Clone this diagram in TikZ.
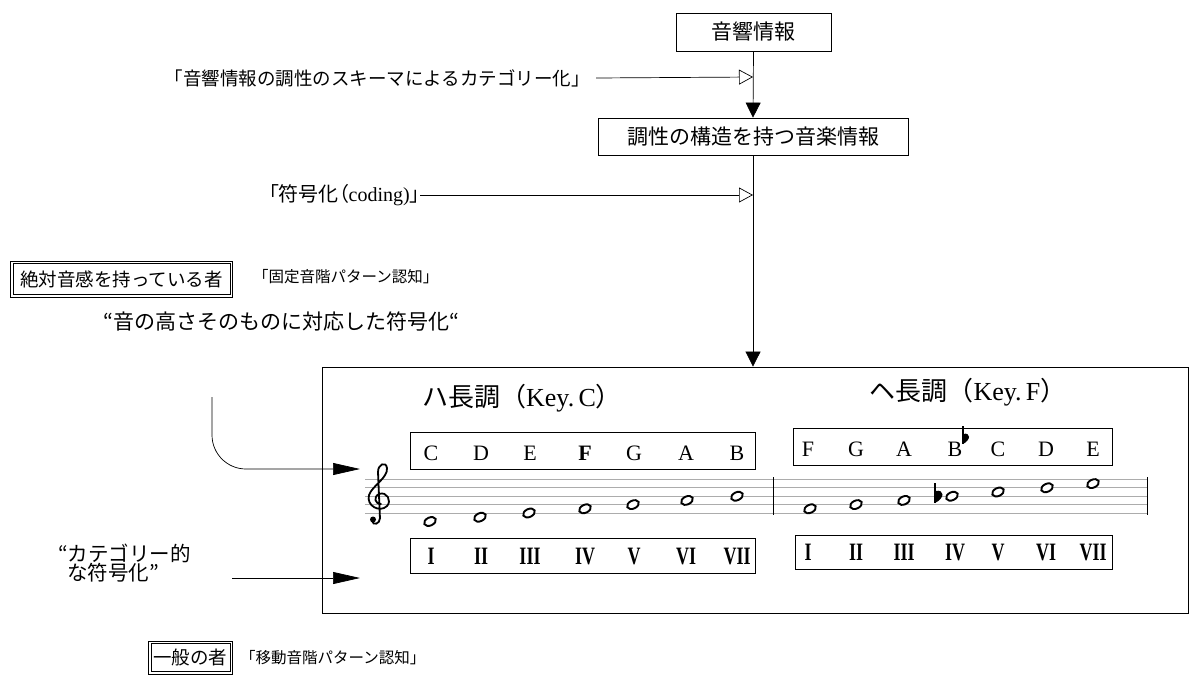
\documentclass[tikz,border=0pt]{standalone}
\usepackage{fontspec}
\setmainfont{Liberation Serif}
\newfontfamily\jp{Noto Sans CJK JP}
\newfontfamily\jpp[RawFeature=+palt]{Noto Sans CJK JP}
\usetikzlibrary{arrows.meta}
\newcommand{\fs}[1]{\fontsize{#1}{#1}\selectfont}
\newcommand{\rn}[1]{\scalebox{0.72}[1]{\bfseries #1}}
\begin{document}
\begin{tikzpicture}[x=1pt,y=-1pt,
  box/.style={draw, line width=0.8pt, inner sep=0pt},
  lbl/.style={inner sep=0pt, anchor=west},
  conn/.style={line width=0.7pt},
  blk/.style={conn, -{Triangle[length=15pt,width=15pt]}},
  blkh/.style={conn, -{Triangle[length=27pt,width=12pt]}},
  opn/.style={conn, -{Triangle[open,length=14pt,width=15pt,line width=0.7pt]}},
  let/.style={inner sep=0pt, font=\fs{22}},
  rom/.style={inner sep=0pt, font=\fs{25}},
  staff/.style={gray!65, line width=0.6pt},
  note/.style={line width=1.9pt}
]
\useasboundingbox (0,0) rectangle (1191,675);

% top chain
\node[box, minimum width=155, minimum height=38] (b1) at (753.5,32) {\jp\fs{21}音響情報};
\node[box, minimum width=310, minimum height=37] (b2) at (753,136.5) {\jp\fs{21}調性の構造を持つ音楽情報};
\node[box, minimum width=866, minimum height=246] (big) at (755,490) {};
\draw[blk] (b1.south) -- (b2.north);
\draw[blk] (b2.south) -- (b2.south |- big.north);

\coordinate (m1) at (753,77);
\coordinate (m2) at (753,195);
\node[inner sep=0pt, anchor=east] (l1) at (590,78) {\jp\fs{18.5}「音響情報の調性のスキーマによるカテゴリー化」};
\draw[opn] ([xshift=6pt]l1.east) -- (m1);
\node[inner sep=0pt, anchor=east] (l2) at (420,195) {{\jpp\fs{20}「符号化（}\fs{20}coding){\jpp\fs{20}」}};
\draw[opn] (l2.east) -- (m2);

% left labels
\node[box, minimum width=222, minimum height=36, anchor=west] (abs) at (10,279) {\jp\fs{18.5}絶対音感を持っている者};
\draw[line width=0.6pt] ([shift={(3,3)}]abs.north west) rectangle ([shift={(-3,-3)}]abs.south east);
\node[lbl] (fix) at (253,277) {\jp\fs{15.5}「固定音階パターン認知」};
\node[lbl] (q1) at (103,322) {\jp\fs{21}“音の高さそのものに対応した符号化“};
\node[lbl, align=left] (q2) at (58,563) {\jp\fs{20.5}“カテゴリー的\\[-1pt]\jp\fs{20.5}\ \ な符号化”};
\node[box, minimum width=84, minimum height=33, anchor=west] (gen) at (148,657.5) {\jp\fs{18.5}一般の者};
\draw[line width=0.6pt] ([shift={(3,3)}]gen.north west) rectangle ([shift={(-3,-3)}]gen.south east);
\node[lbl] (mov) at (240,658) {\jp\fs{15.5}「移動音階パターン認知」};

% arrows into big box
\coordinate (c0) at (212,397);
\coordinate (c1) at (360,469);
\draw[blkh] (c0) -- (212,435) to[out=-90,in=180] (246,469) -- (c1);
\coordinate (d0) at (232,578);
\coordinate (d1) at (360,578);
\draw[blkh] (d0) -- (d1);

% titles
\node[inner sep=0pt] (tc) at (522,398) {{\jp\fs{26}ハ長調（}\fs{26}Key.\,C{\jp\fs{26}）}};
\node[inner sep=0pt] (tf) at (968,392) {{\jp\fs{26}ヘ長調（}\fs{26}Key.\,F{\jp\fs{26}）}};

% letter boxes
\node[box, minimum width=345, minimum height=37] (lc) at (582.5,450.5) {};
\node[box, minimum width=319, minimum height=37] (lf) at (952.5,446.5) {};
\node[box, minimum width=345, minimum height=35] (rc) at (582.5,555.5) {};
\node[box, minimum width=317, minimum height=34] (rf) at (953.5,552) {};

\foreach \x/\t [count=\i] in {431/C,481/D,530/E,585/{\textbf{F}},634/G,686/A,737/B}
  \node[let] (lc\i) at (\x,453) {\t};
\foreach \x/\t [count=\i] in {808/F,856/G,904/A,955/B,998/C,1046/D,1093/E}
  \node[let] (lf\i) at (\x,449) {\t};

\foreach \x/\t [count=\i] in {431/I,481/II,530/III,585/IV,634/V,686/VI,737/VII}
  \node[rom] (rc\i) at (\x,556) {\rn{\t}};
\foreach \x/\t [count=\i] in {808/I,856/II,904/III,955/IV,998/V,1046/VI,1093/VII}
  \node[rom] (rf\i) at (\x,552) {\rn{\t}};

% staff
\foreach \y in {479,487.5,496,504.5,513}
  \draw[staff] (365,\y) -- (1147,\y);
\draw[line width=0.9pt] (773,477) -- (773,515);
\draw[line width=0.9pt] (1147,477) -- (1147,515);

% treble clef (drawn symbol)
\draw[line width=1.8pt, line cap=round]
  (380,518) .. controls (380,524) and (373,526) .. (372,521)
  (380,519) -- (378,472) .. controls (378,464) and (386,461) .. (387,468)
  .. controls (388,478) and (372,486) .. (369,495)
  .. controls (366,506) and (380,513) .. (387,506)
  .. controls (392,501) and (387,491) .. (379,494)
  .. controls (373,497) and (375,504) .. (381,504);
\fill (373,519.5) circle [radius=3];

% flats (drawn symbols)
\draw[line width=1.4pt] (963,426) -- (963,444);
\fill (963,444) .. controls (971,440) and (971,432) .. (963,434) -- cycle;
\draw[line width=1.6pt] (935,483) -- (935,503);
\fill (935,503) .. controls (945,498) and (945,489) .. (935,491) -- cycle;

\foreach \x/\y in {430/521.5,480/517.2,529/513,585/508.8,633/504.6,687/500.4,737/496.2,
                   810/508.8,856/504.6,904/500.4,952/496.2,998/492,1047/487.8,1093/483.6}
  \draw[note, fill=white] (\x,\y) ellipse [x radius=6.2, y radius=4, rotate=25];
\end{tikzpicture}
\end{document}
